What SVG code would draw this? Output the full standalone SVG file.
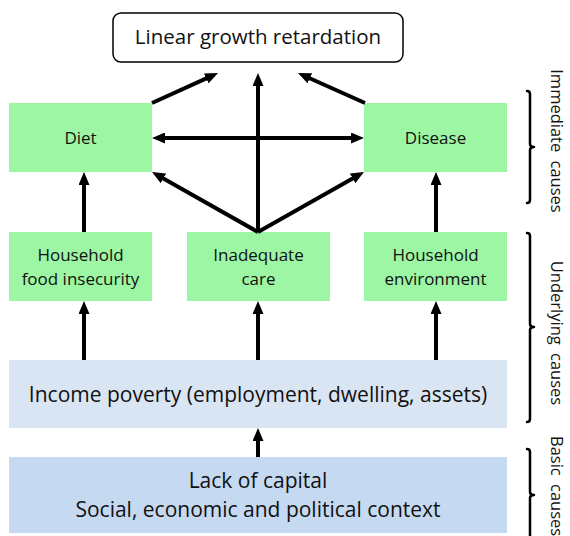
<svg xmlns="http://www.w3.org/2000/svg" width="570" height="536" viewBox="0 0 570 536">
  <style>
    text { font-family: "Open Sans", "Noto Sans", "DejaVu Sans", sans-serif; fill: #111; text-anchor: middle; }
    .lbl { font-size: 17px; }
    .big { font-size: 21px; }
    .side { font-size: 16.5px; word-spacing: 4px; }
    .green { fill: #9cf6a3; }
    .pale { fill: #dae5f3; }
    .blue { fill: #c5d9f1; }
    .arrow { stroke: #000; stroke-width: 4; fill: none; marker-end: url(#head); }
    .both { marker-start: url(#head); }
    .brace { stroke: #000; stroke-width: 2.5; fill: none; stroke-linecap: round; stroke-linejoin: round; }
  </style>
  <defs>
    <marker id="head" markerUnits="userSpaceOnUse" markerWidth="13" markerHeight="11" refX="2" refY="5.5" orient="auto-start-reverse">
      <path d="M0,0 L13,5.5 L0,11 z" fill="#000"/>
    </marker>
  </defs>

  <rect width="570" height="536" fill="#fff"/>

  <!-- outcome -->
  <g id="growth">
    <rect x="113" y="13" width="290" height="49" rx="8" fill="#fff" stroke="#000" stroke-width="1.5"/>
    <text x="258" y="44" style="font-size:20.5px">Linear growth retardation</text>
  </g>

  <!-- immediate causes -->
  <g id="diet">
    <rect class="green" x="9" y="103" width="143" height="69"/>
    <text class="lbl" x="80.5" y="144">Diet</text>
  </g>
  <g id="disease">
    <rect class="green" x="364" y="103" width="143" height="69"/>
    <text class="lbl" x="435.5" y="144">Disease</text>
  </g>

  <!-- underlying causes -->
  <g id="food">
    <rect class="green" x="9" y="232" width="143" height="69"/>
    <text class="lbl" x="80.5" y="261">Household</text>
    <text class="lbl" x="80.5" y="285">food insecurity</text>
  </g>
  <g id="care">
    <rect class="green" x="187" y="232" width="143" height="69"/>
    <text class="lbl" x="258.5" y="261">Inadequate</text>
    <text class="lbl" x="258.5" y="285">care</text>
  </g>
  <g id="environment">
    <rect class="green" x="364" y="232" width="143" height="69"/>
    <text class="lbl" x="435.5" y="261">Household</text>
    <text class="lbl" x="435.5" y="285">environment</text>
  </g>
  <g id="income">
    <rect class="pale" x="9" y="360" width="498" height="68"/>
    <text class="big" x="258" y="402">Income poverty (employment, dwelling, assets)</text>
  </g>

  <!-- basic causes -->
  <g id="capital">
    <rect class="blue" x="9" y="457" width="498" height="76"/>
    <text class="big" x="258" y="488">Lack of capital</text>
    <text class="big" x="258" y="517">Social, economic and political context</text>
  </g>

  <!-- connectors -->
  <g id="connectors">
    <line class="arrow" x1="152" y1="103" x2="208" y2="77.6"/>
    <line class="arrow" x1="258" y1="232" x2="258" y2="84"/>
    <line class="arrow" x1="365" y1="103" x2="308" y2="77.5"/>
    <line class="arrow both" x1="163" y1="138" x2="353" y2="138"/>
    <line class="arrow" x1="258" y1="232" x2="161.6" y2="177.4"/>
    <line class="arrow" x1="258" y1="232" x2="354.4" y2="177.4"/>
    <line class="arrow" x1="84" y1="232" x2="84" y2="183"/>
    <line class="arrow" x1="436" y1="232" x2="436" y2="183"/>
    <line class="arrow" x1="84" y1="360" x2="84" y2="312"/>
    <line class="arrow" x1="258" y1="360" x2="258" y2="312"/>
    <line class="arrow" x1="436" y1="360" x2="436" y2="312"/>
    <line class="arrow" x1="258" y1="457" x2="258" y2="439"/>
  </g>

  <!-- level brackets and labels -->
  <g id="levels">
    <path class="brace" d="M527,91 Q530,91 530,94 L530,144 Q530,147 534,147 Q530,147 530,150 L530,200 Q530,203 527,203"/>
    <path class="brace" d="M527,233 Q530,233 530,236 L530,324 Q530,327 534,327 Q530,327 530,330 L530,419 Q530,422 527,422"/>
    <path class="brace" d="M527,449 Q530,449 530,452 L530,492 Q530,495 534,495 Q530,495 530,498 L530,536"/>
    <text class="side" transform="translate(551,141) rotate(90)">Immediate causes</text>
    <text class="side" transform="translate(551,333) rotate(90)">Underlying causes</text>
    <text class="side" transform="translate(551,436) rotate(90)" style="text-anchor:start">Basic causes</text>
  </g>
</svg>
